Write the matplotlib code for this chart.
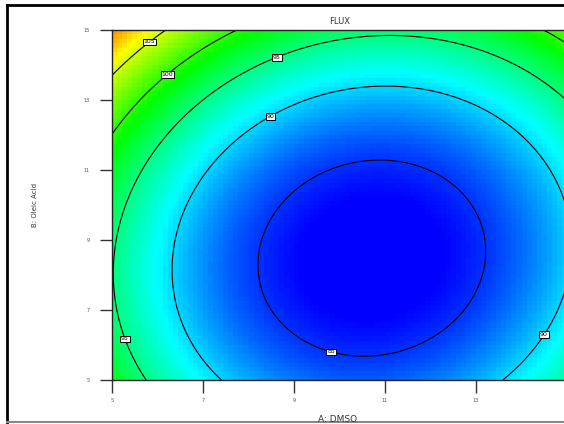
import numpy as np
import matplotlib
matplotlib.use("Agg")
import matplotlib.pyplot as plt
from matplotlib.colors import LinearSegmentedColormap
from matplotlib.lines import Line2D

# Coded quadratic model for FLUX: A = DMSO, B = Oleic Acid (coded -1..+1)
# terms: intercept, A, B, AB, A^2, B^2
flux_coef = [83.55, -3.105, 4.845, -1.19, 9.65, 7.7]

dmso_range = [5, 15]
oleic_range = [5, 15]
contour_levels = [85, 90, 95, 100, 105]
x_ticks = [5, 7, 9, 11, 13]
y_ticks = [5, 7, 9, 11, 13, 15]

# spots where the contour value boxes sit
label_spots = [(5.84, 14.63), (6.12, 13.89), (8.58, 14.37), (8.43, 12.66),
               (9.84, 5.91), (5.22, 6.14), (14.47, 6.31)]


def flux(x, y):
    a = (x - 10) / 5
    b = (y - 10) / 5
    b0, b1, b2, b12, b11, b22 = flux_coef
    return b0 + b1 * a + b2 * b + b12 * a * b + b11 * a ** 2 + b22 * b ** 2


cmap = LinearSegmentedColormap.from_list(
    "de", ["#0000ff", "#00ffff", "#00ff00", "#ffff00", "#ff0000"])

fig = plt.figure(figsize=(5.64, 4.24), dpi=100)
ax = fig.add_axes([112 / 564, 1 - 380 / 424, 455 / 564, 350 / 424])

# blocky colour fill
xe = np.linspace(*dmso_range, 91)
ye = np.linspace(*oleic_range, 81)
xc = (xe[:-1] + xe[1:]) / 2
yc = (ye[:-1] + ye[1:]) / 2
XC, YC = np.meshgrid(xc, yc)
ax.pcolormesh(xe, ye, flux(XC, YC), cmap=cmap, vmin=83.5, vmax=114,
              shading="flat")

# smooth contour lines
xs = np.linspace(*dmso_range, 400)
ys = np.linspace(*oleic_range, 400)
XS, YS = np.meshgrid(xs, ys)
cs = ax.contour(XS, YS, flux(XS, YS), levels=contour_levels,
                colors="black", linewidths=0.8)
labels = ax.clabel(cs, fmt="%d", fontsize=4.5, inline=False, manual=label_spots)
for t in labels:
    t.set_rotation(0)
    t.set_bbox(dict(boxstyle="square,pad=0.15", fc="white", ec="black", lw=0.7))

ax.set_xlim(*dmso_range)
ax.set_ylim(*oleic_range)
ax.set_xticks(x_ticks)
ax.set_yticks(y_ticks)
ax.tick_params(direction="out", length=9, width=1, color="#333333",
               labelsize=3.5, labelcolor="#555555")
ax.tick_params(axis="x", pad=4)
ax.tick_params(axis="y", pad=7)
for s in ax.spines.values():
    s.set_color("#222222")
    s.set_linewidth(1)

ax.set_title("FLUX", fontsize=6, color="#333333", pad=4)
fig.text(338 / 564, 1 - 420 / 424, "A: DMSO", fontsize=6.5, color="#333333",
         ha="center", va="center")
fig.text(35 / 564, 1 - 205 / 424, "B: Oleic Acid", fontsize=5, color="#333333",
         ha="center", va="center", rotation=90)

# outer frame
fig.add_artist(Line2D([7 / 564, 1], [1 - 5 / 424] * 2, color="black", lw=2))
fig.add_artist(Line2D([7 / 564] * 2, [1 - 5 / 424, 1 - 422 / 424],
                      color="black", lw=2))
fig.add_artist(Line2D([7 / 564, 1], [1 - 422 / 424] * 2, color="#888888", lw=1.5))

fig.savefig("out.png", dpi=100)
